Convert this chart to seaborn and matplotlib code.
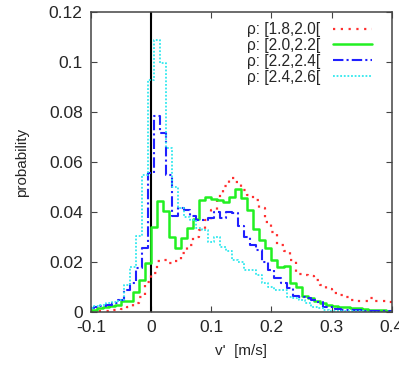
"""Velocity fluctuation histograms for several density classes"""

import matplotlib
matplotlib.use("Agg")
import matplotlib.pyplot as plt
import numpy as np
import pandas as pd
import seaborn as sns

sns.set_style("ticks")
plt.rcParams["font.family"] = ["Liberation Sans", "DejaVu Sans"]
plt.rcParams["axes.unicode_minus"] = False

# bin centres (0.01 wide); the two low-density classes are binned half a bin off
CENTRES_A = np.round(np.arange(-0.095, 0.4, 0.01), 3)
CENTRES_B = np.round(np.arange(-0.10, 0.405, 0.01), 3)

RHO_18_20 = [0.0003, 0.0005, 0.0005, 0.0008, 0.001, 0.0012, 0.002, 0.0035, 0.006, 0.012,
             0.0156, 0.0205, 0.021, 0.0198, 0.0205, 0.0235, 0.027, 0.030, 0.033, 0.0368,
             0.0408, 0.0464, 0.0504, 0.0535, 0.052, 0.049, 0.047, 0.045, 0.0415, 0.036,
             0.032, 0.0268, 0.0245, 0.021, 0.0152, 0.0148, 0.0145, 0.0128, 0.0108, 0.0091,
             0.0078, 0.0068, 0.0059, 0.005, 0.0044, 0.0044, 0.0055, 0.0045, 0.0044, 0.0042]

RHO_20_22 = [0.001, 0.0015, 0.002, 0.0025, 0.003, 0.0045, 0.0045, 0.008, 0.013, 0.0195,
             0.034, 0.0445, 0.0404, 0.0301, 0.0257, 0.0295, 0.0335, 0.0372, 0.0448, 0.0459,
             0.0453, 0.0448, 0.0441, 0.0459, 0.0492, 0.0455, 0.0408, 0.0331, 0.029, 0.0255,
             0.021, 0.018, 0.0184, 0.0118, 0.0099, 0.0066, 0.0056, 0.0045, 0.0037, 0.003,
             0.0025, 0.0022, 0.002, 0.0017, 0.0015, 0.0012, 0.001, 0.0009, 0.0007, 0.0006]

RHO_22_24 = [0.0015, 0.002, 0.0025, 0.003, 0.0035, 0.005, 0.0088, 0.0115, 0.0175, 0.0255,
             0.0555, 0.0785, 0.0717, 0.055, 0.0385, 0.0415, 0.041, 0.0385, 0.037, 0.037,
             0.0375, 0.040, 0.0375, 0.040, 0.0395, 0.0345, 0.030, 0.0268, 0.025, 0.020,
             0.0168, 0.0135, 0.0115, 0.0095, 0.0064, 0.006, 0.0058, 0.0047, 0.0041, 0.0021,
             0.002, 0.0012, 0.001, 0.0008, 0.0008, 0.0007, 0.0006, 0.0006, 0.0005, 0.0005,
             0.0004]

RHO_24_26 = [0.0015, 0.0025, 0.0028, 0.0035, 0.004, 0.0048, 0.0108, 0.018, 0.0305, 0.055,
             0.093, 0.109, 0.0995, 0.0655, 0.050, 0.0415, 0.038, 0.0368, 0.0335, 0.0328,
             0.028, 0.030, 0.026, 0.0245, 0.021, 0.020, 0.0168, 0.0168, 0.0148, 0.0117,
             0.010, 0.0088, 0.0088, 0.0061, 0.0055, 0.0048, 0.0037, 0.0021, 0.0017, 0.001,
             0.0006, 0.0005, 0.0004, 0.0003, 0.0003, 0.0003, 0.0002, 0.0002, 0.0002, 0.0002,
             0.0002]

LABELS = ["ρ: [1.8,2.0[", "ρ: [2.0,2.2[", "ρ: [2.2,2.4[", "ρ: [2.4,2.6["]
X_TICKS = [-0.1, 0, 0.1, 0.2, 0.3, 0.4]
X_TICK_LABELS = ["-0.1", "0", "0.1", "0.2", "0.3", "0.4"]
Y_TICKS = [0, 0.02, 0.04, 0.06, 0.08, 0.1, 0.12]
Y_TICK_LABELS = ["0", "0.02", "0.04", "0.06", "0.08", "0.1", "0.12"]
BIN_WIDTH = 0.01


def render_plot():
    fig, ax = plt.subplots(figsize=(3.99, 3.65), dpi=100)
    fig.subplots_adjust(left=0.228, right=0.982, bottom=0.145, top=0.967)

    ax.axvline(0, color="black", lw=1.5, zorder=1)

    series = [
        (CENTRES_A, RHO_18_20, "#ff3030", (0, (1, 2.5)), 1.6),
        (CENTRES_A, RHO_20_22, "#22f022", "-", 1.8),
        (CENTRES_B, RHO_22_24, "#2020ff", (0, (5, 1.5, 1, 1.5)), 1.5),
        (CENTRES_B, RHO_24_26, "#30e8ee", (0, (1, 1)), 1.3),
    ]
    for (centres, values, color, style, width), label in zip(series, LABELS):
        hist_df = pd.DataFrame({"v": centres, "p": values})
        lo = float(centres[0]) - BIN_WIDTH / 2
        hi = float(centres[-1]) + BIN_WIDTH / 2
        sns.histplot(data=hist_df, x="v", weights="p", binwidth=BIN_WIDTH,
                     binrange=(lo, hi), element="step", fill=False, color=color,
                     linestyle=style, linewidth=width, label=label, ax=ax)

    ax.set_xlim(-0.1, 0.4)
    ax.set_ylim(0, 0.12)
    ax.set_xticks(X_TICKS)
    ax.set_xticklabels(X_TICK_LABELS)
    ax.set_yticks(Y_TICKS)
    ax.set_yticklabels(Y_TICK_LABELS)
    ax.tick_params(direction="in", top=True, right=True, length=4,
                   labelsize=12.5, pad=6, color="#444444")
    for spine in ax.spines.values():
        spine.set_visible(True)
        spine.set_color("#444444")
        spine.set_linewidth(1.1)

    ax.set_xlabel("v'  [m/s]", fontsize=11, labelpad=6)
    ax.set_ylabel("probability", fontsize=11, labelpad=14)

    ax.legend(loc="upper right", bbox_to_anchor=(0.965, 0.998), frameon=False,
              markerfirst=False, fontsize=11.2, handlelength=2.5,
              handletextpad=0.8, labelspacing=0.06, borderpad=0.1)

    fig.savefig("out.png", dpi=100)
    plt.close(fig)


render_plot()
